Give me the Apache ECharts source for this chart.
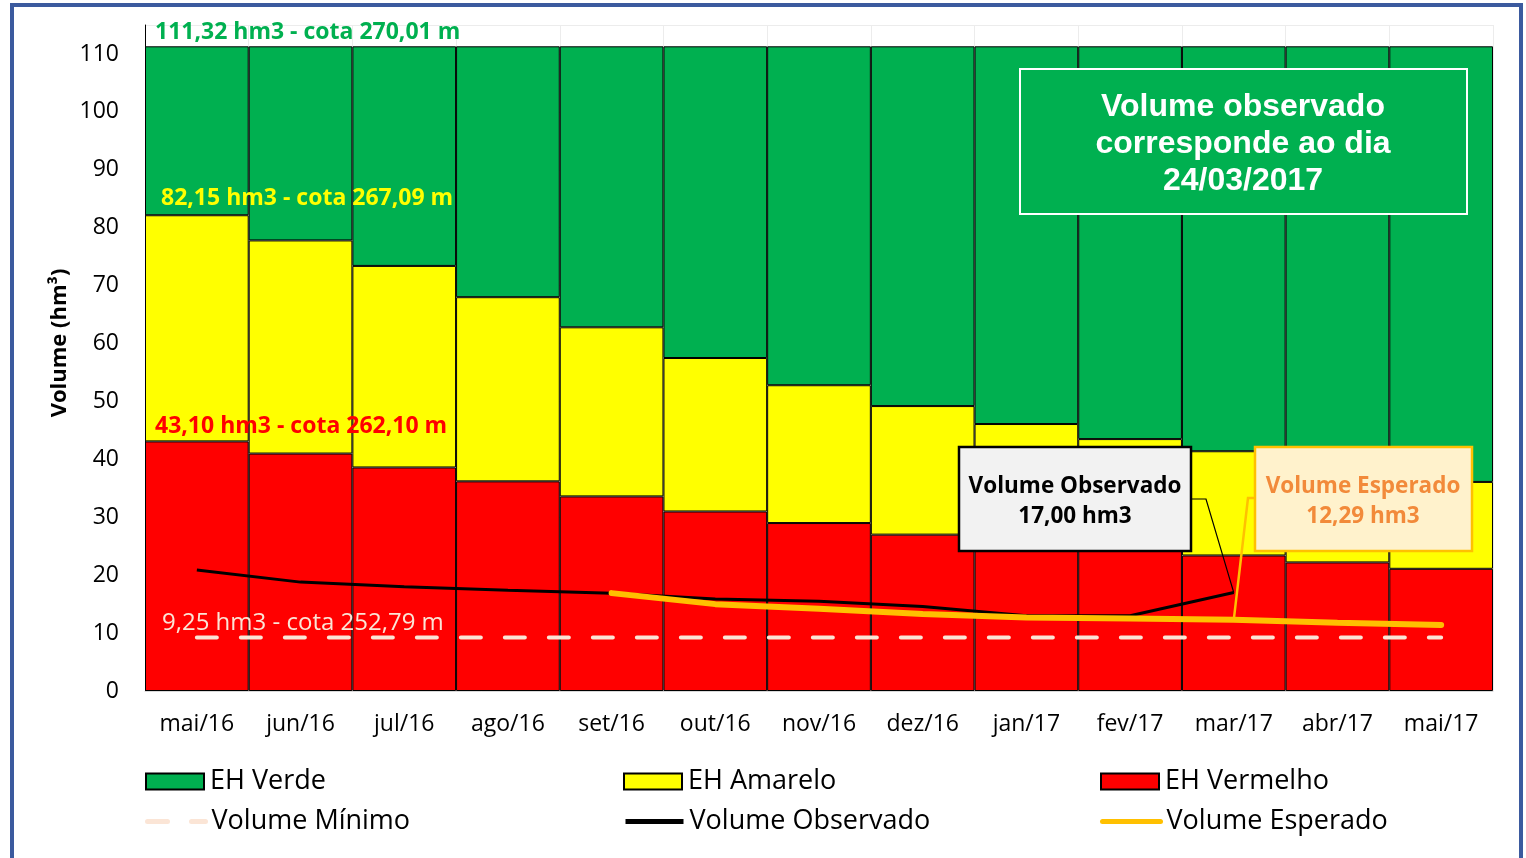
<!DOCTYPE html>
<html>
<head>
<meta charset="utf-8">
<script src="https://cdn.jsdelivr.net/npm/echarts@6/dist/echarts.min.js"></script>
<style>
html,body{margin:0;padding:0;background:#fff;}
#chart{width:1526px;height:858px;}
</style>
</head>
<body>
<div id="chart"></div>
<script>
const categories = ['mai/16','jun/16','jul/16','ago/16','set/16','out/16','nov/16','dez/16','jan/17','fev/17','mar/17','abr/17','mai/17'];
const ehVermelhoTop = [43.1, 41.0, 38.6, 36.2, 33.6, 31.0, 29.0, 27.0, 25.8, 24.6, 23.4, 22.2, 21.1];
const ehAmareloTop = [82.15, 77.8, 73.4, 68.0, 62.8, 57.5, 52.8, 49.2, 46.1, 43.5, 41.4, 38.6, 36.1];
const ehVerdeTop = 111.32;
const volumeObservado = [20.9, 18.8, 18.0, 17.4, 16.9, 15.9, 15.5, 14.6, 13.0, 13.0, 17.0, null, null];
const volumeEsperado = [null, null, null, null, 16.9, 15.0, 14.2, 13.3, 12.7, 12.5, 12.29, 11.8, 11.4];
const volumeMinimoValue = 9.25;
const volumeMinimo = categories.map(() => volumeMinimoValue);
const yTicks = {min: 0, max: 115, interval: 10};

const amareloData = ehAmareloTop.map((t, i) => +(t - ehVermelhoTop[i]).toFixed(2));
const verdeData = ehAmareloTop.map(t => +(ehVerdeTop - t).toFixed(2));

const FONT = '"Open Sans", "Noto Sans", sans-serif';
const chart = echarts.init(document.getElementById('chart'), null, {renderer: 'canvas'});

const gridLeft = 145, gridRight = 33, gridTop = 25, gridBottom = 167;

function legendAt(name, left, top, extra) {
  return Object.assign({
    data: [name], left: left, top: top, padding: 0,
    itemWidth: 58, itemHeight: 16, itemGap: 0,
    textStyle: {fontFamily: FONT, fontSize: 27, color: '#000', padding: [0, 0, 0, 1]},
    selectedMode: false
  }, extra || {});
}
const lineLegend = {lineStyle: {width: 5}, itemStyle: {opacity: 0}};

const option = {
  animation: false,
  backgroundColor: '#fff',
  grid: {left: gridLeft, right: gridRight, top: gridTop, bottom: gridBottom},
  legend: [
    legendAt('EH Verde', 145, 768, {icon: 'rect'}),
    legendAt('EH Amarelo', 623, 768, {icon: 'rect'}),
    legendAt('EH Vermelho', 1100, 768, {icon: 'rect'}),
    legendAt('Volume Mínimo', 145, 808, lineLegend),
    legendAt('Volume Observado', 623, 808, lineLegend),
    legendAt('Volume Esperado', 1100, 808, lineLegend)
  ],
  xAxis: {
    type: 'category', data: categories, boundaryGap: true,
    axisLine: {show: true, lineStyle: {color: '#d9d9d9', width: 1}},
    axisTick: {show: false},
    axisLabel: {fontFamily: FONT, fontSize: 23, color: '#000', margin: 22, interval: 0},
    splitLine: {show: true, interval: 0, lineStyle: {color: '#ececec', width: 1}}
  },
  yAxis: {
    type: 'value', min: yTicks.min, max: yTicks.max, interval: yTicks.interval,
    axisLine: {show: true, lineStyle: {color: '#000', width: 1}},
    axisTick: {show: false},
    axisLabel: {fontFamily: FONT, fontSize: 23, color: '#000', margin: 26, showMaxLabel: false},
    splitLine: {show: true, lineStyle: {color: '#ececec', width: 1}}
  },
  series: [
    {name: 'EH Vermelho', type: 'bar', stack: 'eh', data: ehVermelhoTop, barCategoryGap: '0%',
      itemStyle: {color: '#ff0000', borderColor: '#000', borderWidth: 1}, z: 2},
    {name: 'EH Amarelo', type: 'bar', stack: 'eh', data: amareloData, barCategoryGap: '0%',
      itemStyle: {color: '#ffff00', borderColor: '#000', borderWidth: 1}, z: 2},
    {name: 'EH Verde', type: 'bar', stack: 'eh', data: verdeData, barCategoryGap: '0%',
      itemStyle: {color: '#00b050', borderColor: '#000', borderWidth: 1}, z: 2},
    {name: 'Volume Mínimo', type: 'line', data: volumeMinimo, symbol: 'none',
      lineStyle: {color: '#fbe5d6', width: 4, type: [20, 24], cap: 'round'}, itemStyle: {color: '#fbe5d6'}, z: 5},
    {name: 'Volume Observado', type: 'line', data: volumeObservado, symbol: 'none', connectNulls: false,
      lineStyle: {color: '#000', width: 3}, itemStyle: {color: '#000'}, z: 6},
    {name: 'Volume Esperado', type: 'line', data: volumeEsperado, symbol: 'none',
      lineStyle: {color: '#ffc000', width: 6, cap: 'round'}, itemStyle: {color: '#ffc000'}, z: 7}
  ]
};
chart.setOption(option);

function px(i, v) { return chart.convertToPixel({gridIndex: 0}, [i, v]); }
const plotLeft = gridLeft;
const yVerde = px(0, ehVerdeTop)[1];
const yAmarelo = px(0, ehAmareloTop[0])[1];
const yVermelho = px(0, ehVermelhoTop[0])[1];
const yMin = px(0, volumeMinimoValue)[1];
const obsPt = px(10, volumeObservado[10]);
const espPt = px(10, volumeEsperado[10]);

function levelText(text, x, y, color, size, weight) {
  return {type: 'text', x: x, y: y, z: 50,
    style: {text: text, fill: color, fontFamily: FONT, fontSize: size, fontWeight: weight, verticalAlign: 'middle', align: 'left'}};
}

chart.setOption({
  graphic: [
    {type: 'rect', shape: {x: 12, y: 5, width: 1509, height: 900}, style: {fill: 'none', stroke: '#3b5a9e', lineWidth: 4}, z: 100, silent: true},
    {type: 'text', x: 60, y: 343, rotation: Math.PI / 2, z: 50,
      style: {text: 'Volume (hm³)', fill: '#000', fontFamily: FONT, fontSize: 22, fontWeight: 'bold', align: 'center', verticalAlign: 'middle'}},
    levelText('111,32 hm3 - cota 270,01 m', plotLeft + 10, yVerde - 14, '#00b050', 23, 'bold'),
    levelText('82,15 hm3 - cota 267,09 m', plotLeft + 16, yAmarelo - 17, '#ffff00', 23, 'bold'),
    levelText('43,10 hm3 - cota 262,10 m', plotLeft + 10, yVermelho - 15, '#ff0000', 23, 'bold'),
    levelText('9,25 hm3 - cota 252,79 m', plotLeft + 17, yMin - 14, '#fbe5d6', 24, 'normal'),
    {type: 'rect', shape: {x: 1020, y: 69, width: 447, height: 145}, z: 60,
      style: {fill: '#00b050', stroke: '#ffffff', lineWidth: 2}},
    {type: 'text', x: 1243, y: 144, z: 61,
      style: {text: 'Volume observado\ncorresponde ao dia\n24/03/2017', fill: '#fff', align: 'center', verticalAlign: 'middle',
        fontFamily: '"Liberation Sans", Arial, sans-serif', fontSize: 32, fontWeight: 'bold', lineHeight: 37}},
    {type: 'polyline', z: 62, shape: {points: [[1191, 499], [1206, 499], [obsPt[0], obsPt[1]]]},
      style: {stroke: '#000', lineWidth: 1.2, fill: 'none'}},
    {type: 'rect', shape: {x: 959, y: 447, width: 232, height: 104}, z: 63,
      style: {fill: '#f2f2f2', stroke: '#000', lineWidth: 2.5}},
    {type: 'text', x: 1075, y: 502, z: 64,
      style: {text: 'Volume Observado\n17,00 hm3', fill: '#000', align: 'center', verticalAlign: 'middle',
        fontFamily: FONT, fontSize: 22.5, fontWeight: 'bold', lineHeight: 30}},
    {type: 'polyline', z: 62, shape: {points: [[1255, 498], [1248, 498], [espPt[0], espPt[1]]]},
      style: {stroke: '#ffc000', lineWidth: 2.5, fill: 'none'}},
    {type: 'rect', shape: {x: 1255, y: 447, width: 217, height: 104}, z: 63,
      style: {fill: '#fff2cc', stroke: '#ffc000', lineWidth: 2.5}},
    {type: 'text', x: 1363, y: 502, z: 64,
      style: {text: 'Volume Esperado\n12,29 hm3', fill: '#f28a3a', align: 'center', verticalAlign: 'middle',
        fontFamily: FONT, fontSize: 22.5, fontWeight: 'bold', lineHeight: 30}}
  ]
});
</script>
</body>
</html>
